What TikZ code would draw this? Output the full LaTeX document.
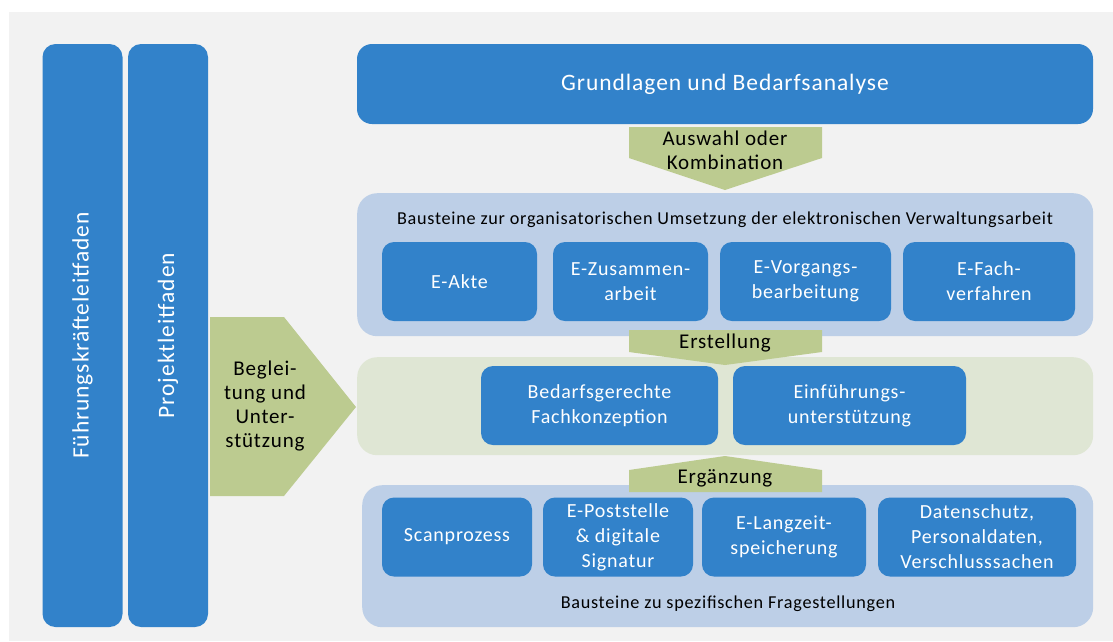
\documentclass[tikz,border=0pt]{standalone}
\usepackage{fontspec}
\setmainfont{Carlito}[LetterSpace=4]
\definecolor{bsblue}{RGB}{50,130,202}
\definecolor{bslightblue}{RGB}{189,207,231}
\definecolor{bsgreen}{RGB}{188,203,144}
\definecolor{bslightgreen}{RGB}{223,230,212}
\definecolor{bsgray}{RGB}{242,242,242}
\usetikzlibrary{positioning}

\begin{document}
\begin{tikzpicture}[x=1pt, y=-1pt]
        \tikzset{baustein/.style={rectangle, rounded corners=12pt, fill=bsblue, text=white,
            align=center, minimum width=#1, minimum height=79pt, inner sep=0pt,
            font=\fontsize{20}{25}\selectfont},
          panel/.style={rectangle, rounded corners=20pt, anchor=north west, inner sep=0pt},
          leitfaden/.style={rectangle, rounded corners=13pt, fill=bsblue, text=white, rotate=90,
            minimum width=583pt, minimum height=80pt, inner sep=0pt, font=\fontsize{23.5}{28}\selectfont},
          pfeil/.style={fill=bsgreen},
          pfeiltext/.style={align=center, text=black, font=\fontsize{21}{24}\selectfont},
          titel/.style={text=black, font=\fontsize{18.2}{22}\selectfont}}
        \useasboundingbox (0,0) rectangle (1113,641);
        \fill[bsgray] (9,12) rectangle (1113,641);
        % Leitfaeden
        \node[leitfaden] (fuehrung) at (82.5,335.5) {Führungskräfteleitfaden};
        \node[leitfaden] (projekt)  at (168,335.5)  {Projektleitfaden};
        % Grundlagen
        \node[baustein=736pt, minimum height=80pt, rounded corners=15pt,
          font=\fontsize{23.5}{28}\selectfont] (grundlagen) at (725,84) {Grundlagen und Bedarfsanalyse};
        % Panels
        \node[panel, fill=bslightblue,  minimum width=736pt, minimum height=143pt] (orga) at (357,193) {};
        \node[panel, fill=bslightgreen, minimum width=736pt, minimum height=98pt]  (konz) at (357,357) {};
        \node[panel, fill=bslightblue,  minimum width=731pt, minimum height=142pt] (spez) at (362,485) {};
        \node[titel] (orgatitel) at (725,220)
          {Bausteine zur organisatorischen Umsetzung der elektronischen Verwaltungsarbeit};
        \node[titel] (speztitel) at (728,604) {Bausteine zu spezifischen Fragestellungen};
        % Row 1
        \node[baustein=155pt] (akte)      at (459.5,281.5) {E-Akte};
        \node[baustein=155pt] (zusammen)  at (630.5,281.5) {E-Zusammen-\\arbeit};
        \node[baustein=171pt] (vorgang)   at (805.5,281.5) {E-Vorgangs-\\bearbeitung};
        \node[baustein=172pt] (fach)      at (989,281.5)   {E-Fach-\\verfahren};
        % Row 2
        \node[baustein=237pt] (fachkonz)  at (599.5,405.5) {Bedarfsgerechte\\Fachkonzeption};
        \node[baustein=233pt] (einfuehr)  at (849.5,405.5) {Einführungs-\\unterstützung};
        % Row 3
        \node[baustein=150pt] (scan)      at (457,537)     {Scanprozess};
        \node[baustein=150pt] (post)      at (618,537)     {E-Poststelle\\\& digitale\\Signatur};
        \node[baustein=164pt] (langzeit)  at (784,537)     {E-Langzeit-\\speicherung};
        \node[baustein=198pt] (daten)     at (977,537)     {Datenschutz,\\Personaldaten,\\Verschlusssachen};
        % Pfeile
        \fill[pfeil] (629,127) -- (822,127) -- (822,158) -- (725,190) -- (629,158) -- cycle;
        \fill[pfeil] (629,330) -- (822,330) -- (822,352) -- (725,365) -- (629,352) -- cycle;
        \fill[pfeil] (725,456) -- (822,470) -- (822,492) -- (629,492) -- (629,470) -- cycle;
        \fill[pfeil] (210,317) -- (284,317) -- (356,407) -- (284,496) -- (210,496) -- cycle;
        \node[pfeiltext] (auswahl)    at (725,150) {Auswahl oder\\Kombination};
        \node[pfeiltext] (erstellung) at (725,343) {Erstellung};
        \node[pfeiltext] (ergaenzung) at (725,478) {Ergänzung};
        \node[pfeiltext] (begleitung) at (265,406) {Beglei-\\tung und\\Unter-\\stützung};
      \end{tikzpicture}
\end{document}
